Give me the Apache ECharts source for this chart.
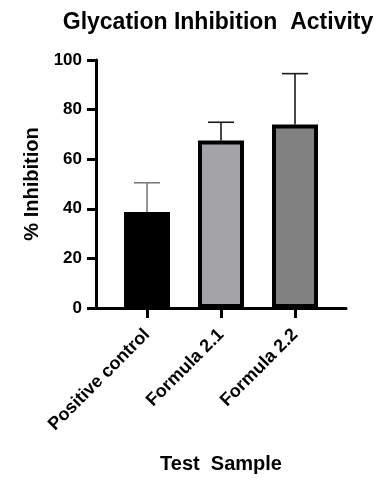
<!DOCTYPE html>
<html><head><meta charset="utf-8">
<script src="https://cdn.jsdelivr.net/npm/echarts@6/dist/echarts.min.js"></script>
<style>html,body{margin:0;padding:0;background:#fff}#c{width:389px;height:482px}</style>
</head><body><div id="c"></div>
<script>
const titleText = 'Glycation Inhibition  Activity';
const xName = 'Test  Sample';
const yName = '% Inhibition';
const categories = ['Positive control', 'Formula 2.1', 'Formula 2.2'];
const means = [38.7, 67.5, 74.0];
const errors = [11.8, 7.4, 20.5];
const fills = ['#000000', '#a3a3a8', '#818181'];
const errColors = ['#7a7a7a', '#1a1a1a', '#1a1a1a'];
const yTicks = [0, 20, 40, 60, 80, 100];

const font = 'Liberation Sans, Arial, sans-serif';
const chart = echarts.init(document.getElementById('c'));
chart.setOption({
  animation: false,
  title: { text: titleText, left: 213, top: 6, textAlign: 'center',
    textStyle: { fontFamily: font, fontWeight: 'bold', fontSize: 23, color: '#000' } },
  grid: [
    { left: 96, width: 250, top: 60, bottom: 174 },
    { left: 110, width: 222, top: 60, bottom: 174 }
  ],
  xAxis: [
    { gridIndex: 0, type: 'value', min: 0, max: 1,
      axisLine: { show: true, lineStyle: { color: '#000', width: 3 } },
      axisTick: { show: false }, axisLabel: { show: false }, splitLine: { show: false } },
    { gridIndex: 1, type: 'category', data: categories,
      name: xName, nameLocation: 'middle', nameGap: 146,
      nameTextStyle: { fontFamily: font, fontWeight: 'bold', fontSize: 20, color: '#000' },
      axisLine: { show: false },
      axisTick: { show: true, alignWithLabel: true, length: 10, lineStyle: { color: '#000', width: 3 } },
      axisLabel: { rotate: 45, margin: 24, fontFamily: font, fontWeight: 'bold', fontSize: 18, color: '#000' } }
  ],
  yAxis: [
    { gridIndex: 0, type: 'value', min: yTicks[0], max: yTicks[yTicks.length - 1], interval: 20,
      name: yName, nameLocation: 'middle', nameGap: 52,
      nameTextStyle: { fontFamily: font, fontWeight: 'bold', fontSize: 20, color: '#000' },
      axisLine: { show: true, lineStyle: { color: '#000', width: 3 } },
      axisTick: { show: true, length: 9, lineStyle: { color: '#000', width: 3 } },
      axisLabel: { margin: 14, fontFamily: font, fontWeight: 'bold', fontSize: 17, color: '#000' },
      splitLine: { show: false } },
    { gridIndex: 1, type: 'value', min: 0, max: 100, show: false, splitLine: { show: false } }
  ],
  series: [
    { type: 'custom', xAxisIndex: 1, yAxisIndex: 1, z: 1,
      data: means.map((m, i) => [i, m, m + errors[i]]),
      renderItem: function (params, api) {
        const i = api.value(0);
        const base = api.coord([i, api.value(1)]);
        const top = api.coord([i, api.value(2)]);
        const hw = 13;
        const style = { stroke: errColors[i], lineWidth: 1.6 };
        return { type: 'group', children: [
          { type: 'line', shape: { x1: base[0], y1: base[1], x2: top[0], y2: top[1] }, style },
          { type: 'line', shape: { x1: top[0] - hw, y1: top[1], x2: top[0] + hw, y2: top[1] }, style }
        ] };
      } },
    { type: 'bar', xAxisIndex: 1, yAxisIndex: 1, z: 2, barWidth: 46,
      data: means.map((m, i) => ({ value: m, itemStyle: { color: fills[i], borderColor: '#000', borderWidth: 4 } })) }
  ]
});
</script></body></html>
